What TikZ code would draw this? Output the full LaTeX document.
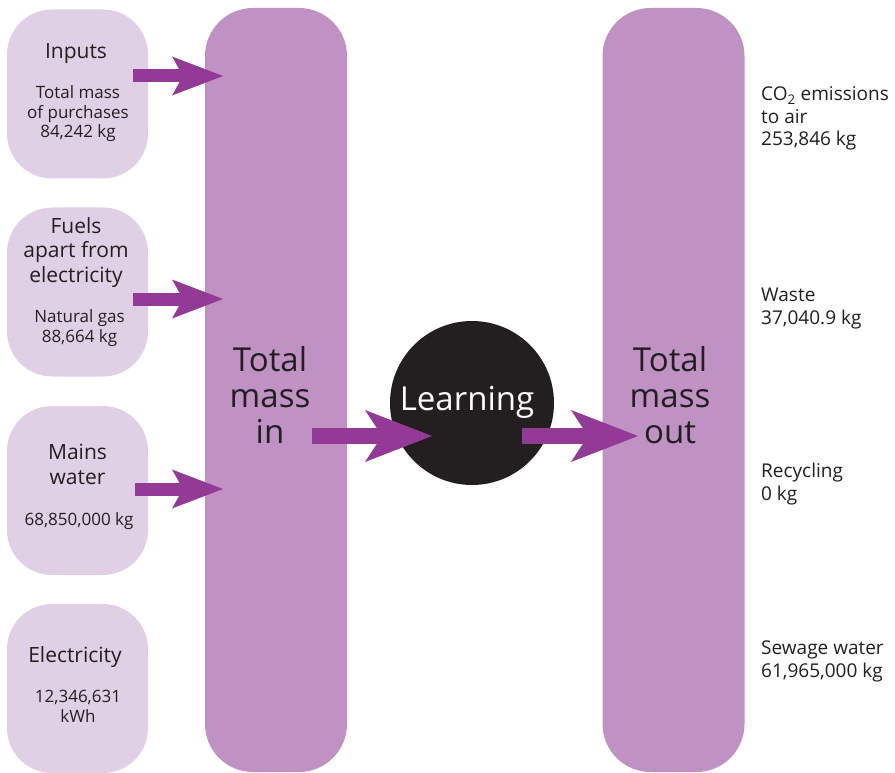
\documentclass[tikz,border=0pt]{standalone}
\usepackage{fontspec}
\setmainfont{Open Sans}
\usetikzlibrary{arrows.meta}
\definecolor{boxfill}{RGB}{224,208,230}
\definecolor{barfill}{RGB}{191,146,195}
\definecolor{arrowc}{RGB}{147,58,150}
\definecolor{ink}{RGB}{35,31,32}
\begin{document}
\begin{tikzpicture}[x=1pt,y=-1pt,
  inbox/.style={fill=boxfill, rounded corners=45pt, minimum width=141pt, minimum height=169pt, inner sep=0pt},
  bar/.style={fill=barfill, rounded corners=48pt, minimum width=142pt, minimum height=764pt, inner sep=0pt},
  head/.style={text=ink, align=center, anchor=base, inner sep=0pt, font=\fontsize{21}{24.5}\selectfont},
  small/.style={text=ink, align=center, anchor=base, inner sep=0pt, font=\fontsize{17}{19.5}\selectfont},
  big/.style={text=ink, align=center, anchor=base, inner sep=0pt, font=\fontsize{33}{36}\selectfont},
  outlbl/.style={text=ink, align=left, anchor=base west, inner sep=0pt, font=\fontsize{19}{22.5}\selectfont},
  inarrow/.style={draw=arrowc, line width=13pt, -{Stealth[length=51pt, width=39pt, inset=11pt, line width=0pt]}},
  midarrow/.style={draw=arrowc, line width=16pt, -{Stealth[length=67pt, width=52pt, inset=17pt, line width=0pt]}}
]
\useasboundingbox (0,0) rectangle (895,773);
% bars
\node[bar] (barin) at (276,390) {};
\node[bar] (barout) at (673.5,390) {};
% input boxes
\node[inbox] (b1) at (77.5,94) {};
\node[inbox] (b2) at (77.5,292) {};
\node[inbox] (b3) at (77.5,490.5) {};
\node[inbox] (b4) at (77.5,688.5) {};
% learning circle
\node[circle, fill=ink, minimum size=164pt, inner sep=0pt] (learn) at (472,403) {};
% arrow end points
\coordinate (a1s) at (133,76);  \coordinate (a1e) at (223,76);
\coordinate (a2s) at (133,299); \coordinate (a2e) at (223,299);
\coordinate (a3s) at (135,489); \coordinate (a3e) at (223,489);
\coordinate (a4s) at (312,436); \coordinate (a4e) at (432,436);
\coordinate (a5s) at (522,436); \coordinate (a5e) at (638,436);
\draw[inarrow] (a1s) -- (a1e);
\draw[inarrow] (a2s) -- (a2e);
\draw[inarrow] (a3s) -- (a3e);
\draw[midarrow] (a4s) -- (a4e);
\draw[midarrow] (a5s) -- (a5e);
% texts in boxes (base anchor = baseline of last line)
\node[head] (t1) at (76,59) {Inputs};
\node[small] (t1b) at (78,138) {Total mass\\of purchases\\84,242 kg};
\node[head] (t2) at (76,282) {Fuels\\apart from\\electricity};
\node[small] (t2b) at (79.5,342) {Natural gas\\88,664 kg};
\node[head] (t3) at (77.5,484) {Mains\\water};
\node[small] (t3b) at (79,525) {68,850,000 kg};
\node[head] (t4) at (75,662) {Electricity};
\node[small] (t4b) at (78,722) {12,346,631\\kWh};
% big texts
\node[big] (tin) at (270,443) {Total\\mass\\in};
\node[big] (tout) at (670,443) {Total\\mass\\out};
\node[big, text=white] (tlearn) at (467,410) {Learning};
% output labels
\node[outlbl] (o1) at (761,146) {CO\textsubscript{2} emissions\\to air\\253,846 kg};
\node[outlbl] (o2) at (761,324) {Waste\\37,040.9 kg};
\node[outlbl] (o3) at (761,500) {Recycling\\0 kg};
\node[outlbl] (o4) at (761,677) {Sewage water\\61,965,000 kg};
\end{tikzpicture}
\end{document}
